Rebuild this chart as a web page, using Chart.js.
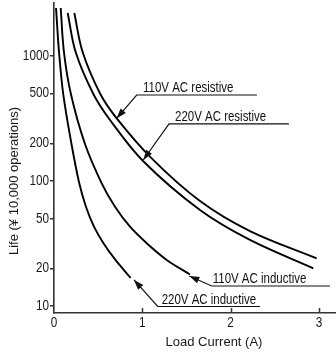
<!DOCTYPE html>
<html><head><meta charset="utf-8">
<script src="https://cdn.jsdelivr.net/npm/chart.js@4"></script>
<style>html,body{margin:0;padding:0;background:#fff;}#wrap{width:336px;height:356px;}</style>
</head><body><div id="wrap"><canvas id="c" width="336" height="356"></canvas></div>
<script>
const FONT = '"Liberation Sans", Arial, sans-serif';

const xTicks = [0, 1, 2, 3];
const yTicks = [10, 20, 50, 100, 200, 500, 1000];
const xTitle = 'Load Current (A)';
const yTitle = 'Life (¥ 10,000 operations)';

const seriesNames = ['220V AC inductive', '110V AC inductive', '220V AC resistive', '110V AC resistive'];
const x220Ind = [0.023, 0.057, 0.105, 0.198, 0.286, 0.362, 0.453, 0.560, 0.696, 0.868];
const y220Ind = [2409, 1066, 492.5, 197.4, 95.8, 62.3, 43.1, 31.8, 23.4, 16.8];
const x110Ind = [0.076, 0.113, 0.192, 0.351, 0.540, 0.691, 0.861, 1.050, 1.276, 1.540];
const y110Ind = [2409, 1066, 492.5, 197.4, 95.8, 62.3, 43.1, 31.8, 23.4, 17.9];
const x220Res = [0.155, 0.246, 0.447, 0.634, 1.008, 1.653, 2.219, 2.936];
const y220Res = [2198, 1066, 492.5, 307, 144.4, 58.6, 33.8, 20.06];
const x110Res = [0.230, 0.325, 0.526, 0.710, 1.106, 1.653, 2.219, 2.974];
const y110Res = [2198, 1066, 492.5, 316.7, 151.7, 69.2, 39.8, 24.1];

const annLabels = ['110V AC resistive', '220V AC resistive', '110V AC inductive', '220V AC inductive'];
const annTipX = [0.71, 1.011, 1.532, 0.906];
const annTipY = [316.7, 147.1, 17.41, 16.18];
const annElbowX = [0.936, 1.302, 1.785, 1.174];
const annElbowY = [486, 286.2, 14.48, 9.93];
const annEndX = [2.298, 2.66, 3.125, 2.332];
const annTextX = [1.008, 1.370, 1.797, 1.219];

const seriesX = [x220Ind, x110Ind, x220Res, x110Res];
const seriesY = [y220Ind, y110Ind, y220Res, y110Res];

const datasets = seriesNames.map((name, k) => ({
  label: name,
  data: seriesX[k].map((v, i) => ({ x: v, y: seriesY[k][i] })),
  borderColor: '#000',
  borderWidth: 1.9,
  pointRadius: 0,
  fill: false,
  tension: 0.35
}));

function narrowText(ctx, text, x, y, size, align, baseline, sx) {
  ctx.save();
  ctx.font = size + 'px ' + FONT;
  ctx.textBaseline = baseline;
  ctx.textAlign = align;
  ctx.translate(x, y);
  ctx.scale(sx, 1);
  ctx.fillText(text, 0, 0);
  ctx.restore();
}

const decorPlugin = {
  id: 'decor',
  afterDraw(chart) {
    const ctx = chart.ctx;
    const xs = chart.scales.x, ys = chart.scales.y;
    const area = chart.chartArea;
    ctx.save();
    ctx.strokeStyle = '#333';
    ctx.lineWidth = 1.5;
    xTicks.forEach(v => {
      if (v === 0) return;
      const px = Math.round(xs.getPixelForValue(v)) + 0.5;
      ctx.beginPath();
      ctx.moveTo(px, area.bottom);
      ctx.lineTo(px, area.bottom - 5);
      ctx.stroke();
    });
    ctx.fillStyle = '#1a1a1a';
    xTicks.forEach(v => {
      narrowText(ctx, String(v), xs.getPixelForValue(v), area.bottom + 10, 14, 'center', 'middle', 0.84);
    });
    yTicks.forEach(v => {
      narrowText(ctx, String(v), area.left - 5, ys.getPixelForValue(v), 14, 'right', 'middle', 0.84);
    });
    ctx.fillStyle = '#111';
    annLabels.forEach((lab, i) => {
      const tx = xs.getPixelForValue(annTipX[i]), ty = ys.getPixelForValue(annTipY[i]);
      const ex = xs.getPixelForValue(annElbowX[i]), ey = ys.getPixelForValue(annElbowY[i]);
      const endx = xs.getPixelForValue(annEndX[i]);
      ctx.strokeStyle = '#111';
      ctx.lineWidth = 1.2;
      ctx.beginPath();
      ctx.moveTo(endx, ey);
      ctx.lineTo(ex, ey);
      ctx.lineTo(tx, ty);
      ctx.stroke();
      const ang = Math.atan2(ty - ey, tx - ex);
      const L = 10, W = 3.5;
      const bx = tx - L * Math.cos(ang), by = ty - L * Math.sin(ang);
      ctx.beginPath();
      ctx.moveTo(tx, ty);
      ctx.lineTo(bx + W * Math.sin(ang), by - W * Math.cos(ang));
      ctx.lineTo(bx - W * Math.sin(ang), by + W * Math.cos(ang));
      ctx.closePath();
      ctx.fill();
      narrowText(ctx, lab, xs.getPixelForValue(annTextX[i]), ey - 3, 14, 'left', 'alphabetic', 0.82);
    });
    ctx.fillStyle = '#1a1a1a';
    ctx.textAlign = 'center';
    ctx.textBaseline = 'middle';
    ctx.font = '13px ' + FONT;
    ctx.fillText(xTitle, 214, 342);
    ctx.translate(14, 181);
    ctx.rotate(-Math.PI / 2);
    ctx.fillText(yTitle, 0, 0);
    ctx.restore();
  }
};

new Chart(document.getElementById('c'), {
  type: 'line',
  data: { datasets },
  options: {
    responsive: false,
    devicePixelRatio: 1,
    animation: false,
    layout: { padding: { top: 3, right: 0, left: 0, bottom: 0 } },
    plugins: { legend: { display: false }, tooltip: { enabled: false } },
    scales: {
      x: {
        type: 'linear', min: 0, max: 3.193,
        afterBuildTicks: s => { s.ticks = xTicks.map(v => ({ value: v })); },
        afterFit: s => { s.height = 43; },
        grid: { display: false, drawTicks: false },
        border: { display: true, color: '#333', width: 1.6 },
        ticks: { display: false }
      },
      y: {
        type: 'logarithmic', min: 8.813, max: 2641,
        afterBuildTicks: s => { s.ticks = yTicks.map(v => ({ value: v })); },
        afterFit: s => { s.width = 54; },
        grid: { display: true, drawOnChartArea: false, drawTicks: true, tickLength: 4, color: '#333', lineWidth: 1.5 },
        border: { display: true, color: '#333', width: 1.6 },
        ticks: { display: false }
      }
    }
  },
  plugins: [decorPlugin]
});
</script>
</body></html>
